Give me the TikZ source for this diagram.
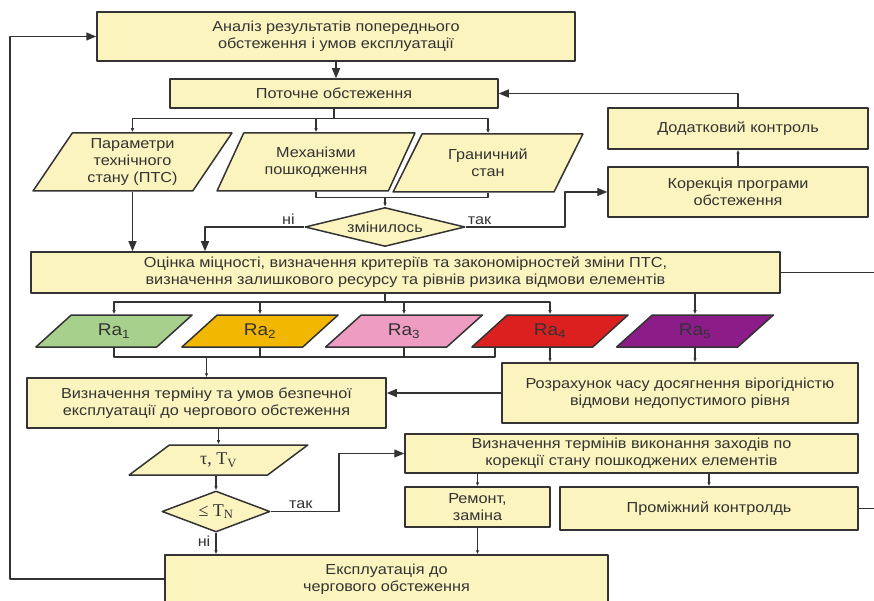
\documentclass[tikz,border=0pt]{standalone}
\usepackage{fontspec}
\setmainfont{Liberation Sans}[FakeStretch=1.12]
\newfontfamily\timesf{Liberation Serif}
\usetikzlibrary{shapes.geometric,arrows.meta}
\definecolor{bx}{HTML}{FBF4BE}
\definecolor{lc}{HTML}{333333}
\definecolor{ra1}{HTML}{A8D08D}
\definecolor{ra2}{HTML}{F2B700}
\definecolor{ra3}{HTML}{EE9CC2}
\definecolor{ra4}{HTML}{DC2020}
\definecolor{ra5}{HTML}{8B1C88}
\begin{document}
\begin{tikzpicture}[x=1pt,y=-1pt,font=\fontsize{14.5}{17}\selectfont,line join=round,
	box/.style={draw=lc,fill=bx,line width=1.5pt,text=lc,align=center,inner sep=0pt},
	pa/.style={box,trapezium,trapezium stretches=true,trapezium left angle=58,trapezium right angle=122},
	pr/.style={box,trapezium,trapezium stretches=true,trapezium left angle=47,trapezium right angle=133,font=\fontsize{17}{20}\selectfont},
	pt/.style={box,trapezium,trapezium stretches=true,trapezium left angle=44,trapezium right angle=136},
	big/.style={draw=lc,line width=1.3pt,-{Triangle[length=10pt,width=8pt]}},
	small/.style={draw=lc,line width=1.3pt,-{Latex[length=4pt,width=3.5pt]}},
	ln/.style={draw=lc,line width=1.3pt},
	lbl/.style={text=lc,inner sep=2pt}]
	\path[use as bounding box] (0,0) rectangle (874,601);
	\clip (0,0) rectangle (874,601);
	\coordinate (lp) at (10,0);
	\coordinate (nx) at (205,0);
	\coordinate (tx) at (565,0);
	\coordinate (tx2) at (339,0);
	\coordinate (ed) at (874,0);
	\coordinate (s1) at (385,302);
	\coordinate (c4) at (495,357);
	% blocks
	\node[box,minimum width=478,minimum height=49] (an) at (336,36.5) {Аналіз результатів попереднього\\обстеження і умов експлуатації};
	\node[box,minimum width=328,minimum height=29] (po) at (334,93.5) {Поточне обстеження};
	\node[pa,minimum width=199,minimum height=58] (pts) at (132.5,162) {Параметри\\технічного\\стану (ПТС)};
	\node[pa,minimum width=198,minimum height=58] (mex) at (316,162) {Механізми\\пошкодження};
	\node[pa,minimum width=190,minimum height=58] (gr) at (488,163) {Граничний\\стан};
	\node[box,diamond,aspect=4,minimum width=160,minimum height=39] (zm) at (385,227) {змінилось};
	\node[box,minimum width=260,minimum height=41] (dod) at (738,128.5) {Додатковий контроль};
	\node[box,minimum width=260,minimum height=50] (kor) at (738,192) {Корекція програми\\обстеження};
	\node[box,minimum width=749,minimum height=41] (ots) at (405.5,272.5) {Оцінка міцності, визначення критеріїв та закономірностей зміни ПТС,\\визначення залишкового ресурсу та рівнів ризика відмови елементів};
	\foreach \i/\x in {1/114,2/260,3/404,4/550,5/695}
		\node[pr,fill=ra\i,minimum width=157,minimum height=32] (ra\i) at (\x,331) {Ra\textsubscript{\i}};
	\node[box,minimum width=359,minimum height=50] (viz) at (206.5,403) {Визначення терміну та умов безпечної\\експлуатації до чергового обстеження};
	\node[box,minimum width=356,minimum height=60] (roz) at (680,393) {Розрахунок часу досягнення вірогідністю\\відмови недопустимого рівня};
	\node[pt,minimum width=179,minimum height=30,font=\timesf\fontsize{18}{20}\selectfont] (tau) at (218.5,460) {τ, T\textsubscript{V}};
	\node[box,diamond,aspect=2.6,minimum width=108,minimum height=41,font=\timesf\fontsize{18}{20}\selectfont] (tn) at (216,511.5) {≤ T\textsubscript{N}};
	\node[box,minimum width=453,minimum height=39] (ter) at (631.5,453.5) {Визначення термінів виконання заходів по\\корекції стану пошкоджених елементів};
	\node[box,minimum width=145,minimum height=40] (rem) at (477.5,507) {Ремонт,\\заміна};
	\node[box,minimum width=298,minimum height=43] (pro) at (709,508.5) {Проміжний контролдь};
	\node[box,minimum width=443,minimum height=48] (eks) at (386.5,579) {Експлуатація до\\чергового обстеження};
	% connectors
	\draw[big] (eks.west) -| (lp |- an.west) -- (an.west);
	\draw[big] (an.south) -- (an.south |- po.north);
	\draw[ln] (po.south) -- ++(0,10) coordinate (f1);
	\draw[small] (f1) -| (pts.north);
	\draw[small] (f1) -| (gr.north);
	\draw[small] (f1 -| mex.north) -- (mex.north);
	\draw[ln] (mex.south) -- ++(0,6) coordinate (j1) -| (gr.south);
	\draw[small] (j1 -| zm.north) -- (zm.north);
	\draw[big] (zm.west) -| (nx |- ots.north) node[lbl,above,pos=.08] {ні};
	\draw[big] (zm.east) -| (tx |- kor.west) node[lbl,above,pos=.07] {так} -- (kor.west);
	\draw[small] (kor.north) -- (dod.south);
	\draw[big] (dod.north) |- (po.east);
	\draw[big] (pts.south) -- (pts.south |- ots.north);
	\draw[ln] (ots.east) -- (ots.east -| ed);
	\draw[ln] (s1 |- ots.south) -- (s1);
	\foreach \i in {1,2,3,4}
		\draw[small] (s1) -| (ra\i.north);
	\draw[small] (ots.south -| ra5.north) -- (ra5.north);
	\draw[ln] (ra1.south) |- (c4) -- (c4 |- ra4.south);
	\draw[ln] (ra2.south) -- (ra2.south |- c4);
	\draw[ln] (ra3.south) -- (ra3.south |- c4);
	\draw[small] (viz.north |- c4) -- (viz.north);
	\draw[small] (ra4.south) -- (ra4.south |- roz.north);
	\draw[small] (ra5.south) -- (ra5.south |- roz.north);
	\draw[big] (roz.west) -- (roz.west -| viz.east);
	\draw[small] (viz.south -| tau.north) -- (tau.north);
	\draw[small] (tau.south -| tn.north) -- (tn.north);
	\draw[big] (tn.east) -| (tx2 |- ter.west) node[lbl,above,pos=.22] {так} -- (ter.west);
	\draw[small] (tn.south) -- (tn.south |- eks.north) node[lbl,left,pos=.4,xshift=-3pt] {ні};
	\draw[small] (rem.north |- ter.south) -- (rem.north);
	\draw[small] (pro.north |- ter.south) -- (pro.north);
	\draw[small] (rem.south) -- (rem.south |- eks.north);
	\draw[ln] (pro.east) -- (pro.east -| ed);
\end{tikzpicture}
\end{document}
